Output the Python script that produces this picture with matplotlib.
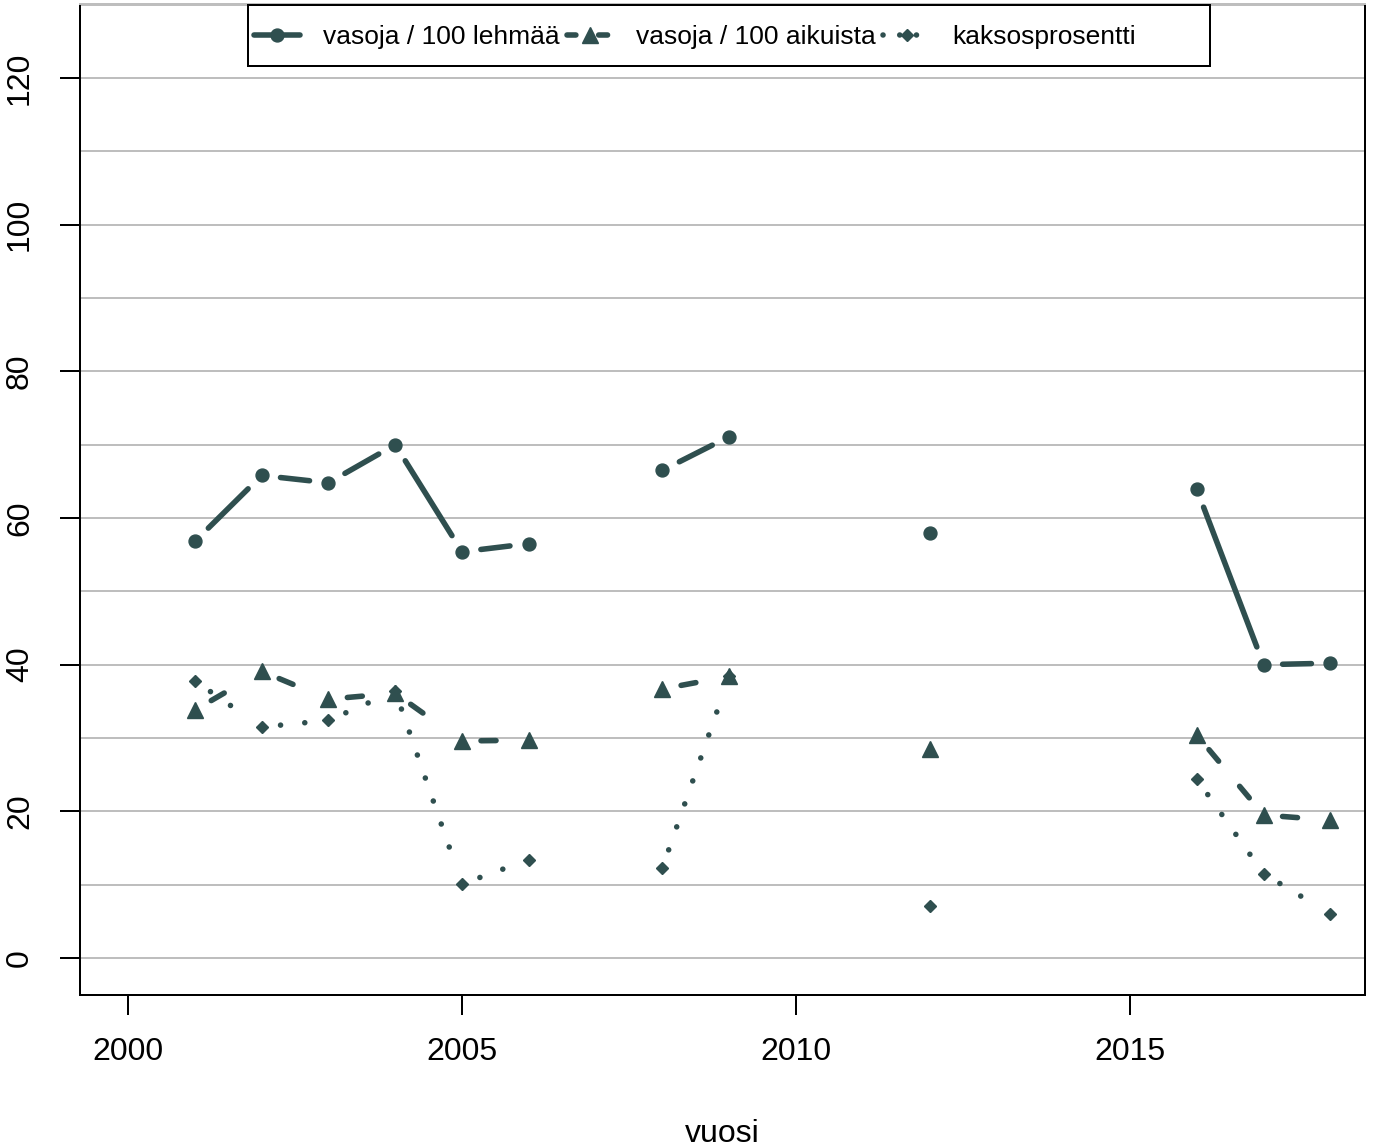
import numpy as np
import matplotlib.pyplot as plt
from matplotlib.lines import Line2D
from matplotlib.patches import Rectangle

plt.rcParams['font.family'] = ['Liberation Sans', 'DejaVu Sans']

## data
vuodet = [2001, 2002, 2003, 2004, 2005, 2006, 2007, 2008, 2009,
          2010, 2011, 2012, 2013, 2014, 2015, 2016, 2017, 2018]
nan = np.nan
lehmaa = [56.8, 65.8, 64.8, 70.0, 55.4, 56.5, nan, 66.5, 71.1,
          nan, nan, 57.9, nan, nan, nan, 63.9, 40.0, 40.2]
aikuista = [33.8, 39.1, 35.3, 36.1, 29.6, 29.7, nan, 36.7, 38.4,
            nan, nan, 28.5, nan, nan, nan, 30.4, 19.5, 18.8]
kaksos = [37.8, 31.5, 32.4, 36.4, 10.1, 13.4, nan, 12.3, 38.4,
          nan, nan, 7.1, nan, nan, nan, 24.4, 11.5, 6.0]
nimet = ['vasoja / 100 lehmää', 'vasoja / 100 aikuista', 'kaksosprosentti']

xtikit = [2000, 2005, 2010, 2015]
ytikit = [0, 20, 40, 60, 80, 100, 120]
gridi = list(range(0, 131, 10))

vari = '#2F4F4F'
lw = 4.0

W, H = 1386, 1146
fig = plt.figure(figsize=(W / 100, H / 100), dpi=100)
ax = fig.add_axes([80 / W, 151 / H, 1285 / W, 991 / H])
ax.set_xlim(1999.281, 2018.518)
ax.set_ylim(-5.045, 130.09)

for g in gridi:
    ax.axhline(g, color='#BEBEBE', lw=1.44, zorder=1)


# R:n type="b" -- viivat pisteiden väliin, rako pisteen ympärillä
def tyyppi_b(x, y, merkki, koko, viiva, rako=19):
    x = np.asarray(x, float)
    y = np.asarray(y, float)
    pts = ax.transData.transform(np.column_stack([x, y]))
    inv = ax.transData.inverted()
    for i in range(len(x) - 1):
        if np.isnan(y[i]) or np.isnan(y[i + 1]):
            continue
        d = pts[i + 1] - pts[i]
        L = np.hypot(d[0], d[1])
        if L <= 2 * rako:
            continue
        u = d / L
        a = inv.transform(pts[i] + u * rako)
        b = inv.transform(pts[i + 1] - u * rako)
        kw = dict(color=vari, lw=lw, solid_capstyle='round', dash_capstyle='round', zorder=2)
        if viiva is not None:
            kw['dashes'] = viiva
        ax.plot([a[0], b[0]], [a[1], b[1]], **kw)
    ax.plot(x, y, linestyle='none', marker=merkki, ms=koko, color=vari, mec=vari, zorder=3)


tyyppi_b(vuodet, lehmaa, 'o', 9.3, None)
tyyppi_b(vuodet, aikuista, '^', 11.0, (2.7, 5.9))
tyyppi_b(vuodet, kaksos, 'D', 6.5, (0.01, 4.37))

ax.set_xticks(xtikit)
ax.set_yticks(ytikit)
ax.tick_params(axis='both', length=14.4, width=1.44, labelsize=23, pad=16, direction='out')
ax.tick_params(axis='y', labelrotation=90, pad=18)
for lab in ax.get_yticklabels():
    lab.set_va('center')
ax.set_xlabel('vuosi', fontsize=23, labelpad=37)

for s in ['left', 'bottom', 'right']:
    ax.spines[s].set_linewidth(1.44)
ax.spines['top'].set_linewidth(1.44)
ax.spines['top'].set_color('#BEBEBE')

## selite
kahvat = [
    Line2D([], [], color=vari, lw=lw, marker='o', ms=9.3, solid_capstyle='round'),
    Line2D([], [], color=vari, lw=lw, marker='^', ms=11.0, dashes=(1.6, 4.1), dash_capstyle='round'),
    Line2D([], [], color=vari, lw=lw, marker='D', ms=6.5, dashes=(0.01, 3.0), dash_capstyle='round'),
]
laatikko = Rectangle((248 / W, 1 - 66 / H), (1210 - 248) / W, 61 / H, transform=fig.transFigure,
                     facecolor='white', edgecolor='black', lw=1.44, zorder=4, clip_on=False)
ax.add_patch(laatikko)
leg = ax.legend(kahvat, nimet, ncol=3, loc='center left',
                bbox_to_anchor=(254 / W, 1 - 37 / H), bbox_transform=fig.transFigure,
                frameon=False, borderpad=0, borderaxespad=0, handlelength=1.75,
                handletextpad=0.85, columnspacing=0.3, fontsize=19)
leg.set_zorder(5)

fig.savefig('out.png', dpi=100)
